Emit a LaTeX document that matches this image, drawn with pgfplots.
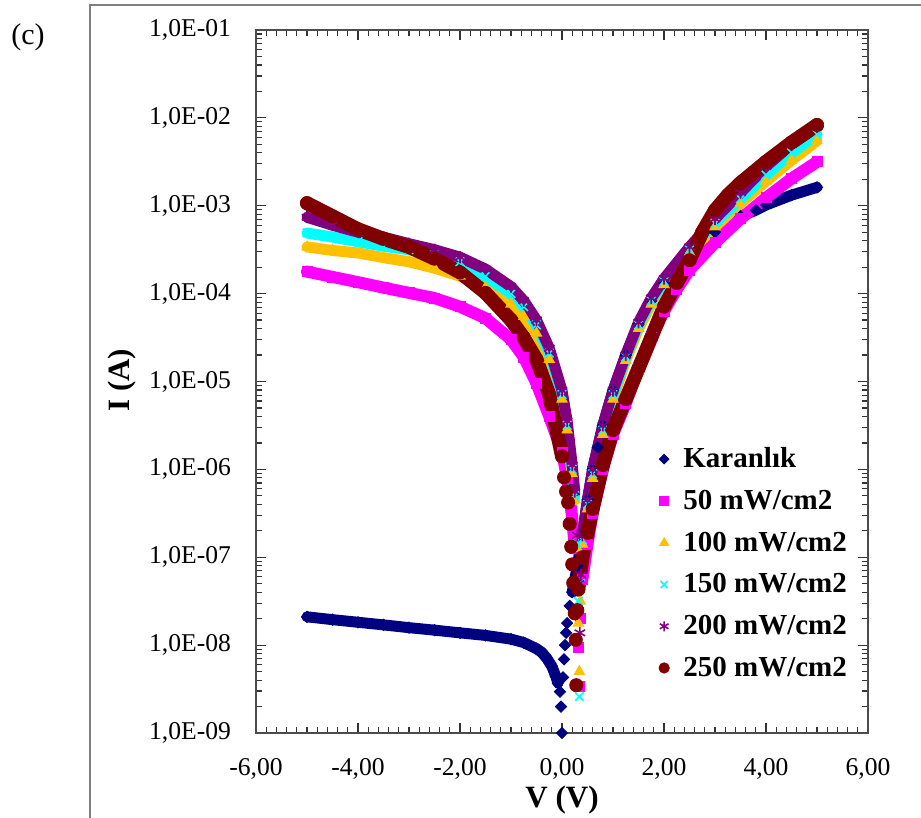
\documentclass[border=0pt]{standalone}
\usepackage{pgfplots}
\usepackage{pgfplotstable}
\pgfplotsset{compat=1.18}
\usepackage{fontspec}
\setmainfont{Liberation Serif}
\definecolor{cdark}{RGB}{0,0,128}
\definecolor{cmag}{RGB}{255,0,255}
\definecolor{corg}{RGB}{255,192,0}
\definecolor{ccyan}{RGB}{0,255,255}
\definecolor{cpur}{RGB}{128,0,128}
\definecolor{cmar}{RGB}{128,0,0}

\pgfplotstableread{
V I B
-5.0 2.1e-8 2.1e-8
-4.5 1.95e-8 1.95e-8
-4.0 1.82e-8 1.82e-8
-3.5 1.70e-8 1.70e-8
-3.0 1.58e-8 1.58e-8
-2.5 1.48e-8 1.48e-8
-2.0 1.38e-8 1.38e-8
-1.5 1.29e-8 1.29e-8
-1.0 1.17e-8 1.17e-8
-0.75 1.07e-8 1.07e-8
-0.5 9.1e-9 9.1e-9
-0.4 8.3e-9 8.3e-9
-0.3 7.1e-9 7.1e-9
-0.2 5.75e-9 5.75e-9
-0.12 4.4e-9 4.4e-9
-0.08 3.7e-9 3.7e-9
-0.04 2.95e-9 nan
-0.02 2.0e-9 nan
0.0 1.0e-9 nan
0.02 4.3e-9 nan
0.04 6.9e-9 nan
0.06 1.0e-8 nan
0.08 1.38e-8 nan
0.10 1.78e-8 nan
0.15 2.8e-8 nan
0.2 4.0e-8 4.0e-8
0.3 7.9e-8 7.9e-8
0.4 1.78e-7 1.78e-7
0.5 4.5e-7 4.5e-7
0.6 1.0e-6 1.0e-6
0.7 1.78e-6 1.78e-6
0.8 3.16e-6 3.16e-6
1.0 7.9e-6 7.9e-6
1.25 2.0e-5 2.0e-5
1.5 4.5e-5 4.5e-5
1.75 8.3e-5 8.3e-5
2.0 1.32e-4 1.32e-4
2.5 2.8e-4 2.8e-4
3.0 5.0e-4 5.0e-4
3.5 7.6e-4 7.6e-4
3.8 8.9e-4 8.9e-4
4.0 1.02e-3 1.02e-3
4.5 1.32e-3 1.32e-3
5.0 1.62e-3 1.62e-3
}\tdark

\pgfplotstableread{
V I B
-5.0 1.78e-4 1.78e-4
-4.5 1.55e-4 1.55e-4
-4.0 1.35e-4 1.35e-4
-3.5 1.17e-4 1.17e-4
-3.0 1.02e-4 1.02e-4
-2.5 8.9e-5 8.9e-5
-2.0 7.1e-5 7.1e-5
-1.5 5.25e-5 5.25e-5
-1.0 3.0e-5 3.0e-5
-0.75 1.9e-5 1.9e-5
-0.5 9.5e-6 9.5e-6
-0.25 4.0e-6 4.0e-6
0.0 1.58e-6 1.58e-6
0.1 7.9e-7 7.9e-7
0.2 2.8e-7 2.8e-7
0.25 1.26e-7 1.26e-7
0.30 4.5e-8 nan
0.33 9.5e-9 nan
0.35 3.4e-9 nan
0.37 2.0e-8 nan
0.40 5.6e-8 5.6e-8
0.5 1.41e-7 1.41e-7
0.6 3.16e-7 3.16e-7
0.8 1.0e-6 1.0e-6
1.0 2.5e-6 2.5e-6
1.25 5.6e-6 5.6e-6
1.5 1.41e-5 1.41e-5
1.75 3.16e-5 3.16e-5
2.0 6.3e-5 6.3e-5
2.25 1.12e-4 1.12e-4
2.5 1.86e-4 1.86e-4
3.0 3.8e-4 3.8e-4
3.5 7.1e-4 7.1e-4
4.0 1.23e-3 1.23e-3
4.5 2.04e-3 2.04e-3
5.0 3.16e-3 3.16e-3
}\tfifty

\pgfplotstableread{
V I B
-5.0 3.4e-4 3.4e-4
-4.5 3.1e-4 3.1e-4
-4.0 2.9e-4 2.9e-4
-3.5 2.57e-4 2.57e-4
-3.0 2.3e-4 2.3e-4
-2.5 1.95e-4 1.95e-4
-2.0 1.58e-4 1.58e-4
-1.5 1.17e-4 1.17e-4
-1.0 7.6e-5 7.6e-5
-0.75 5.5e-5 5.5e-5
-0.5 3.55e-5 3.55e-5
-0.25 1.78e-5 1.78e-5
0.0 6.3e-6 6.3e-6
0.1 2.8e-6 2.8e-6
0.2 8.9e-7 8.9e-7
0.25 4.5e-7 4.5e-7
0.30 1.26e-7 nan
0.32 1.78e-8 nan
0.34 5.0e-9 nan
0.36 3.16e-8 nan
0.40 1.41e-7 1.41e-7
0.5 3.55e-7 3.55e-7
0.6 7.9e-7 7.9e-7
0.8 2.5e-6 2.5e-6
1.0 6.3e-6 6.3e-6
1.25 1.74e-5 1.74e-5
1.5 4.0e-5 4.0e-5
1.75 7.6e-5 7.6e-5
2.0 1.26e-4 1.26e-4
2.5 2.95e-4 2.95e-4
3.0 5.75e-4 5.75e-4
3.5 1.07e-3 1.07e-3
4.0 1.9e-3 1.9e-3
4.5 3.3e-3 3.3e-3
5.0 5.5e-3 5.5e-3
}\thund

\pgfplotstableread{
V I B
-5.0 4.9e-4 4.9e-4
-4.5 4.4e-4 4.4e-4
-4.0 3.9e-4 3.9e-4
-3.5 3.47e-4 3.47e-4
-3.0 3.16e-4 3.16e-4
-2.5 2.75e-4 2.75e-4
-2.0 2.3e-4 2.3e-4
-1.5 1.58e-4 1.58e-4
-1.0 1.0e-4 1.0e-4
-0.75 7.1e-5 7.1e-5
-0.5 4.4e-5 4.4e-5
-0.25 2.1e-5 2.1e-5
0.0 7.1e-6 7.1e-6
0.1 3.16e-6 3.16e-6
0.2 1.0e-6 1.0e-6
0.25 5.0e-7 5.0e-7
0.30 1.41e-7 nan
0.32 3.16e-8 nan
0.34 2.6e-9 nan
0.36 5.0e-8 nan
0.40 1.58e-7 1.58e-7
0.5 4.0e-7 4.0e-7
0.6 8.9e-7 8.9e-7
0.8 2.8e-6 2.8e-6
1.0 7.1e-6 7.1e-6
1.25 1.9e-5 1.9e-5
1.5 4.4e-5 4.4e-5
1.75 8.3e-5 8.3e-5
2.0 1.38e-4 1.38e-4
2.5 3.16e-4 3.16e-4
3.0 6.3e-4 6.3e-4
3.5 1.2e-3 1.2e-3
4.0 2.24e-3 2.24e-3
4.5 4.0e-3 4.0e-3
5.0 6.5e-3 6.5e-3
}\tcfifty

\pgfplotstableread{
V I B
-5.0 7.4e-4 7.4e-4
-4.5 6.0e-4 6.0e-4
-4.0 5.0e-4 5.0e-4
-3.5 4.4e-4 4.4e-4
-3.0 3.7e-4 3.7e-4
-2.5 3.16e-4 3.16e-4
-2.0 2.6e-4 2.6e-4
-1.5 1.9e-4 1.9e-4
-1.0 1.2e-4 1.2e-4
-0.75 8.3e-5 8.3e-5
-0.5 5.0e-5 5.0e-5
-0.25 2.4e-5 2.4e-5
0.0 7.9e-6 7.9e-6
0.1 3.55e-6 3.55e-6
0.2 1.12e-6 1.12e-6
0.25 5.6e-7 5.6e-7
0.30 1.78e-7 nan
0.33 5.0e-8 nan
0.35 1.38e-8 nan
0.37 6.3e-8 nan
0.40 1.78e-7 1.78e-7
0.5 4.5e-7 4.5e-7
0.6 1.0e-6 1.0e-6
0.8 3.16e-6 3.16e-6
1.0 7.9e-6 7.9e-6
1.25 2.0e-5 2.0e-5
1.5 4.7e-5 4.7e-5
1.75 8.9e-5 8.9e-5
2.0 1.48e-4 1.48e-4
2.5 3.4e-4 3.4e-4
3.0 7.1e-4 7.1e-4
3.5 1.41e-3 1.41e-3
4.0 2.8e-3 2.8e-3
4.5 5.0e-3 5.0e-3
5.0 7.9e-3 7.9e-3
}\ttwoh

\pgfplotstableread{
V I B
-5.0 1.07e-3 1.07e-3
-4.5 7.6e-4 7.6e-4
-4.0 5.4e-4 5.4e-4
-3.5 4.2e-4 4.2e-4
-3.0 3.4e-4 3.4e-4
-2.5 2.5e-4 2.5e-4
-2.0 1.74e-4 1.74e-4
-1.5 1.02e-4 1.02e-4
-1.0 5.0e-5 5.0e-5
-0.75 3.16e-5 3.16e-5
-0.5 1.78e-5 1.78e-5
-0.25 7.1e-6 7.1e-6
0.0 1.41e-6 1.41e-6
0.04 8.1e-7 nan
0.08 5.6e-7 nan
0.12 4.2e-7 nan
0.15 2.4e-7 nan
0.18 1.32e-7 nan
0.20 8.3e-8 nan
0.22 5.1e-8 nan
0.25 2.3e-8 nan
0.27 1.15e-8 nan
0.28 3.5e-9 nan
0.30 2.5e-8 nan
0.32 4.3e-8 4.3e-8
0.4 1.0e-7 1.0e-7
0.5 1.9e-7 1.9e-7
0.6 3.55e-7 3.55e-7
0.8 1.12e-6 1.12e-6
1.0 2.8e-6 2.8e-6
1.25 6.3e-6 6.3e-6
1.5 1.41e-5 1.41e-5
1.75 3.16e-5 3.16e-5
2.0 7.1e-5 7.1e-5
2.25 1.32e-4 1.32e-4
2.5 2.4e-4 2.4e-4
2.75 5.0e-4 5.0e-4
3.0 8.9e-4 8.9e-4
3.25 1.32e-3 1.32e-3
3.5 1.82e-3 1.82e-3
4.0 3.16e-3 3.16e-3
4.5 5.25e-3 5.25e-3
5.0 8.3e-3 8.3e-3
}\ttwofifty

\begin{document}
\begin{tikzpicture}
\useasboundingbox (0,0) rectangle (460.5pt,409pt);
\draw[black!50, line width=0.8pt] (45pt,-10pt) -- (45pt,406.5pt) -- (480pt,406.5pt);
\node[font=\fontsize{15}{18}\selectfont] at (14pt,390.5pt) {(c)};
\begin{axis}[
  at={(128pt,42.5pt)}, anchor=south west,
  scale only axis, width=306pt, height=351.5pt,
  xmin=-6, xmax=6, ymode=log, ymin=1e-9, ymax=1e-1,
  clip=false,
  xtick={-6,-4,-2,0,2,4,6},
  xticklabels={{-6,00},{-4,00},{-2,00},{0,00},{2,00},{4,00},{6,00}},
  minor x tick num=9,
  ytick={1e-9,1e-8,1e-7,1e-6,1e-5,1e-4,1e-3,1e-2,1e-1},
  yticklabels={{1,0E-09},{1,0E-08},{1,0E-07},{1,0E-06},{1,0E-05},{1,0E-04},{1,0E-03},{1,0E-02},{1,0E-01}},
  tick align=inside,
  major tick length=5pt, minor tick length=3pt,
  tick style={black!80, line width=0.6pt},
  axis line style={black!70, line width=1.1pt},
  ticklabel style={font=\fontsize{12.8}{15}\selectfont},
  xticklabel style={yshift=-9pt},
  yticklabel style={xshift=-9pt},
  xlabel={V (V)}, ylabel={I (A)},
  every axis x label/.style={at={(rel axis cs:0.5,0)}, yshift=-33.5pt, anchor=center, font=\bfseries\fontsize{15.5}{18}\selectfont},
  every axis y label/.style={at={(rel axis cs:0,0.502)}, xshift=-67pt, rotate=90, anchor=center, font=\bfseries\fontsize{15.5}{18}\selectfont},
  legend style={draw=none, fill=none, at={(0.648,0.418)}, anchor=north west,
    font=\bfseries\fontsize{14.5}{17}\selectfont, row sep=5.7pt,
    /tikz/every odd column/.append style={column sep=5pt}},
  legend cell align=left,
]
% Karanlik
\addplot[forget plot, draw=cdark, line width=5.5pt, line cap=round, line join=round, unbounded coords=jump, mark=none] table[x=V,y=B]{\tdark};
\addplot[only marks, mark=square*, mark size=2pt, mark options={rotate=45, fill=cdark, draw=cdark}, legend image post style={mark size=1.7pt}] table[x=V,y=I]{\tdark};
\addlegendentry{Karanlık}
% 50
\addplot[forget plot, draw=cmag, line width=6pt, line cap=round, line join=round, unbounded coords=jump, mark=none] table[x=V,y=B]{\tfifty};
\addplot[only marks, mark=square*, mark size=2.5pt, mark options={fill=cmag, draw=cmag}, legend image post style={mark size=2.2pt}] table[x=V,y=I]{\tfifty};
\addlegendentry{50 mW/cm2}
% 100
\addplot[forget plot, draw=corg, line width=5.5pt, line cap=round, line join=round, unbounded coords=jump, mark=none] table[x=V,y=B]{\thund};
\addplot[only marks, mark=triangle*, mark size=3pt, mark options={fill=corg, draw=corg}, legend image post style={mark size=2.6pt}] table[x=V,y=I]{\thund};
\addlegendentry{100 mW/cm2}
% 150
\addplot[forget plot, draw=ccyan, line width=5.5pt, line cap=round, line join=round, unbounded coords=jump, mark=none] table[x=V,y=B]{\tcfifty};
\addplot[only marks, mark=x, mark size=3pt, mark options={draw=ccyan, line width=0.8pt}, legend image post style={mark size=2.5pt}] table[x=V,y=I]{\tcfifty};
\addlegendentry{150 mW/cm2}
% 200
\addplot[forget plot, draw=cpur, line width=5.5pt, line cap=round, line join=round, unbounded coords=jump, mark=none] table[x=V,y=B]{\ttwoh};
\addplot[only marks, mark=asterisk, mark size=3pt, mark options={draw=cpur, line width=0.8pt}, legend image post style={mark size=2.5pt}] table[x=V,y=I]{\ttwoh};
\addlegendentry{200 mW/cm2}
% 250
\addplot[forget plot, draw=cmar, line width=7pt, line cap=round, line join=round, unbounded coords=jump, mark=none] table[x=V,y=B]{\ttwofifty};
\addplot[only marks, mark=*, mark size=3.3pt, mark options={fill=cmar, draw=cmar}, legend image post style={mark size=2.6pt}] table[x=V,y=I]{\ttwofifty};
\addlegendentry{250 mW/cm2}
\end{axis}
\end{tikzpicture}
\end{document}
